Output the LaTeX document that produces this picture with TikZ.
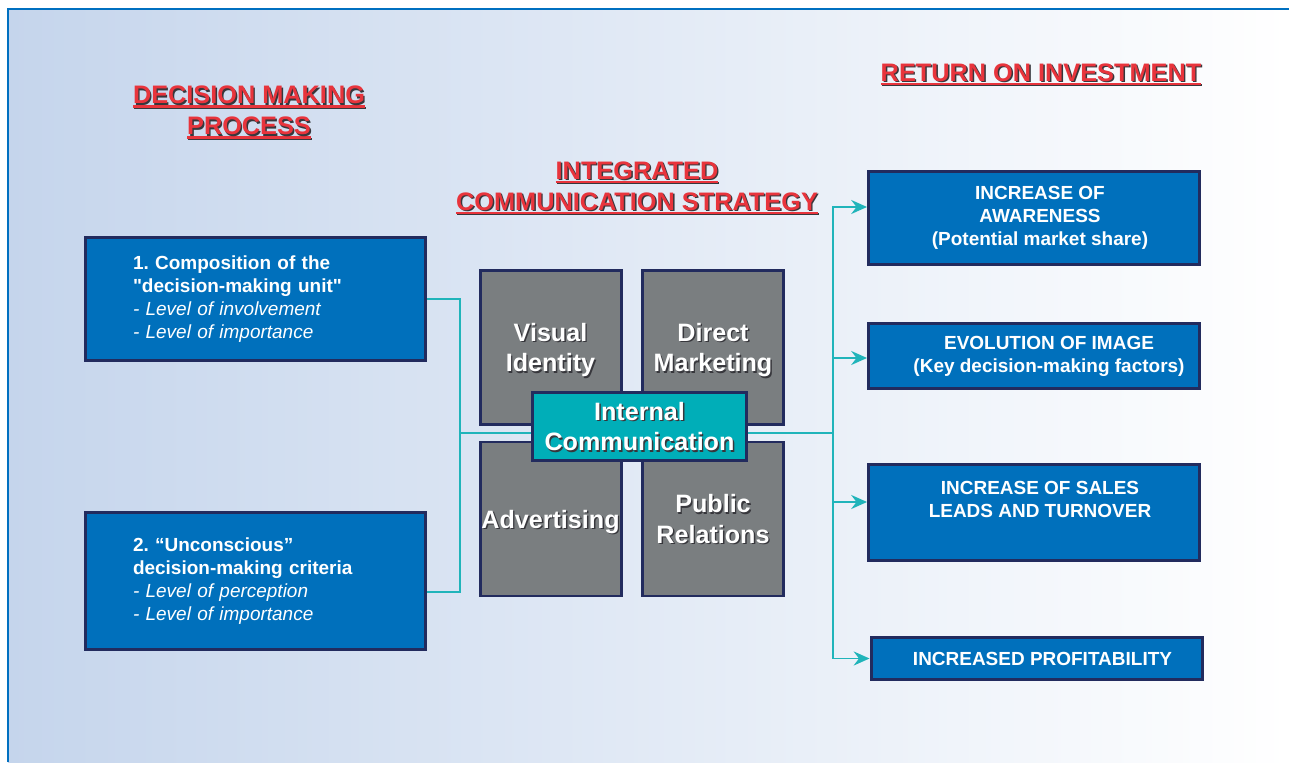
\documentclass[tikz,border=0pt]{standalone}
\usepackage{fontspec}
\setmainfont{Liberation Sans}
\usetikzlibrary{arrows.meta}
\definecolor{boxblue}{RGB}{0,112,188}
\definecolor{navy}{RGB}{34,43,94}
\definecolor{greybox}{RGB}{122,126,128}
\definecolor{icteal}{RGB}{0,174,184}
\definecolor{linkteal}{RGB}{32,180,186}
\definecolor{titred}{RGB}{232,52,60}
\definecolor{shcol}{RGB}{55,55,60}
\definecolor{bgleft}{RGB}{197,213,236}
\definecolor{framebl}{RGB}{0,112,192}
\frenchspacing
% text with a small drop shadow
\newcommand{\shd}[1]{\leavevmode\rlap{\kern0.8pt\raisebox{-0.8pt}{\color{shcol}#1}}#1}
% underlined heading line
\newcommand{\ttl}[1]{\setbox0\hbox{\shd{#1}}%
  \rlap{\kern0.6pt\raisebox{-2.8pt}{\color{shcol}\rule{\wd0}{1.2pt}}}%
  \rlap{\raisebox{-2.2pt}{\color{titred}\rule{\wd0}{1.3pt}}}\box0}
\tikzset{
	lbox/.style={rectangle, draw=navy, line width=1.7pt, fill=boxblue, text=white, minimum width=6.8cm, text width=4.9cm, align=left, font=\fontsize{10.8}{13}\selectfont},
	rbox/.style={rectangle, draw=navy, line width=1.7pt, fill=boxblue, text=white, minimum width=6.62cm, align=center, font=\bfseries\fontsize{10.8}{13}\selectfont},
	gbox/.style={rectangle, draw=navy, line width=1.7pt, fill=greybox, text=white, minimum width=2.82cm, minimum height=3.08cm, inner xsep=0pt, text depth=0pt, align=center, font=\bfseries\fontsize{14.3}{17.3}\selectfont},
	icbox/.style={gbox, fill=icteal, minimum width=4.28cm, minimum height=1.36cm},
	hdr/.style={text=titred, align=center, inner sep=0pt, font=\bfseries\fontsize{14.4}{17.6}\selectfont},
	link/.style={draw=linkteal, line width=1.1pt},
	arrow/.style={link, -{Stealth[length=9pt,width=8pt,inset=3pt]}},
	frame/.style={draw=framebl, line width=1.6pt},
}

\begin{document}
\begin{tikzpicture}
\useasboundingbox (0,0) rectangle (25.78,15.24);
\shade [left color=bgleft, right color=white] (0.16,0) rectangle (25.78,15.06);
\draw [frame] (0.16,0) -- (0.16,15.06) -- (25.78,15.06);

% headings
\node [hdr] (t1) at (4.98,12.98) {\ttl{DECISION MAKING}\\\ttl{PROCESS}};
\node [hdr] (t2) at (12.74,11.47) {\ttl{INTEGRATED}\\\ttl{COMMUNICATION STRATEGY}};
\node [hdr] (t3) at (20.82,13.74) {\ttl{RETURN ON INVESTMENT}};

% decision making process
\node [lbox, minimum height=2.46cm] (l1) at (5.11,9.26) {\textbf{1. Composition of the}\\\textbf{\textquotedbl decision-making unit\textquotedbl}\\\textit{- Level of involvement}\\\textit{- Level of importance}};
\node [lbox, minimum height=2.74cm] (l2) at (5.11,3.62) {\textbf{2. “Unconscious”}\\\textbf{decision-making criteria}\\\textit{- Level of perception}\\\textit{- Level of importance}};

% communication mix
\node [gbox] (g1) at (11.01,8.29) {\shd{Visual}\\\shd{Identity}};
\node [gbox] (g2) at (14.26,8.29) {\shd{Direct}\\\shd{Marketing}};
\node [gbox] (g3) at (11.01,4.86) {\shd{Advertising}};
\node [gbox] (g4) at (14.26,4.86) {\shd{Public}\\\shd{Relations}};
\node [icbox] (ic) at (12.79,6.71) {\shd{Internal}\\\shd{Communication}};

% return on investment
\node [rbox, minimum height=1.86cm] (r1) at (20.68,10.88) {\hspace*{0.24cm}INCREASE OF\\\hspace*{0.24cm}AWARENESS\\\hspace*{0.24cm}(Potential market share)};
\node [rbox, minimum height=1.30cm] (r2) at (20.68,8.12) {\hspace*{0.6cm}EVOLUTION OF IMAGE\\\hspace*{0.6cm}(Key decision-making factors)};
\node [rbox, minimum height=1.92cm, text depth=15pt] (r3) at (20.68,4.99) {\hspace*{0.24cm}INCREASE OF SALES\\\hspace*{0.24cm}LEADS AND TURNOVER};
\node [rbox, minimum height=0.84cm] (r4) at (20.73,2.07) {\hspace*{0.24cm}INCREASED PROFITABILITY};

% connectors
\coordinate (jl) at (9.2,6.58);
\coordinate (jr) at (16.66,6.58);
\draw [link] (l1.east) -| (jl) |- ([yshift=-0.22cm]l2.east);
\draw [link] (jl) -- (jl -| ic.west);
\draw [link] (jr -| ic.east) -- (jr);
\draw [arrow] (jr) |- ([yshift=0.22cm]r1.west);
\draw [arrow] (jr) |- ([yshift=-0.04cm]r2.west);
\draw [arrow] (jr) |- ([yshift=0.21cm]r3.west);
\draw [arrow] (jr) |- (r4.west);
\end{tikzpicture}
\end{document}
